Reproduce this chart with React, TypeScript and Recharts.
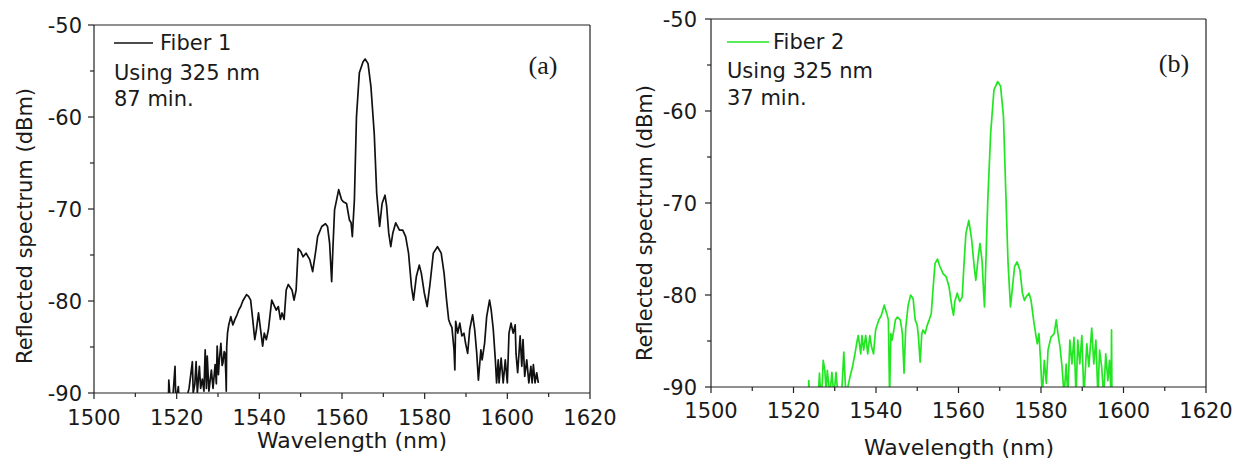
import React from 'react';
import { LineChart, Line, XAxis, YAxis, ReferenceLine } from 'recharts';

// Fiber 1 (panel a)
const fiber1Wavelength = [
  1518.0, 1518.1, 1518.4, 1519.0, 1519.6, 1519.8, 1520.4, 1520.6, 1521.2, 1522.6,
  1523.0, 1523.8, 1524.0, 1524.4, 1524.7, 1525.0, 1525.5, 1525.8, 1526.2, 1526.6,
  1526.9, 1527.2, 1527.4, 1527.8, 1528.4, 1528.8, 1529.3, 1529.6, 1529.8, 1530.1,
  1530.3, 1530.7, 1531.0, 1531.2, 1531.5, 1531.7, 1531.9, 1532.0, 1532.1, 1532.3,
  1532.6, 1533.1, 1533.6, 1534.1, 1534.6, 1535.0, 1535.5, 1536.0, 1536.9, 1537.4,
  1537.9, 1538.4, 1538.9, 1539.3, 1539.8, 1540.3, 1540.8, 1541.2, 1541.7, 1542.2,
  1543.0, 1543.6, 1544.1, 1544.6, 1545.1, 1545.5, 1546.0, 1546.5, 1547.0, 1547.9,
  1548.4, 1548.9, 1549.4, 1550.0, 1550.6, 1551.3, 1552.2, 1552.9, 1553.7, 1554.1,
  1555.1, 1556.0, 1556.5, 1557.0, 1557.5, 1557.8, 1558.2, 1559.2, 1559.9, 1560.3,
  1561.1, 1561.8, 1562.2, 1562.5, 1563.0, 1563.5, 1564.2, 1565.1, 1565.6, 1566.3,
  1567.0, 1567.8, 1568.4, 1569.1, 1569.7, 1570.4, 1570.8, 1571.3, 1571.8, 1572.3,
  1573.0, 1573.9, 1574.7, 1575.4, 1576.1, 1576.8, 1577.3, 1578.0, 1578.7, 1579.2,
  1579.9, 1580.6, 1581.3, 1582.1, 1583.1, 1584.0, 1584.7, 1585.3, 1585.8, 1586.1,
  1586.6, 1587.1, 1587.3, 1587.5, 1588.0, 1588.5, 1589.0, 1589.5, 1589.9, 1590.4,
  1590.9, 1591.6, 1592.1, 1592.6, 1593.0, 1593.6, 1593.9, 1594.5, 1595.0, 1595.7,
  1596.1, 1596.6, 1597.1, 1597.4, 1597.8, 1598.0, 1598.5, 1599.0, 1599.5, 1600.0,
  1600.4, 1600.9, 1601.4, 1601.9, 1602.1, 1602.5, 1603.1, 1603.5, 1603.8, 1604.2,
  1604.7, 1605.2, 1605.7, 1606.0, 1606.3, 1606.7, 1607.1, 1607.5,
];
const fiber1Power = [
  -91, -88.6, -90.5, -91, -87.1, -91, -89.3, -91, -90.5, -90.2,
  -89.5, -86.6, -90, -89, -86.6, -90, -87.1, -89.5, -88.5, -89.8,
  -85.3, -89.5, -86.0, -89.8, -87.5, -89.5, -86.9, -89, -84.9, -88,
  -86.5, -84.6, -87, -86.7, -85.5, -85.7, -88, -89.8, -85, -83.5,
  -82.6, -81.7, -82.6, -82, -81.5, -81.0, -80.6, -80.0, -79.3, -79.5,
  -79.9, -82.0, -84.2, -83.1, -81.3, -83.1, -84.9, -83.5, -84.2, -83.1,
  -79.9, -80.5, -81.0, -80.6, -82.0, -81.3, -82.0, -78.8, -78.2, -78.8,
  -79.9, -78.8, -74.3, -74.6, -75.2, -74.8, -75.5, -76.8, -74.4, -73.0,
  -71.9, -71.6, -71.9, -73.7, -77.9, -74.3, -70.1, -67.9, -69.0, -69.2,
  -69.4, -71.2, -71.5, -73.0, -69.0, -60.0, -55.2, -54.0, -53.7, -54.2,
  -56.7, -61.8, -68.3, -71.9, -69.4, -68.5, -69.7, -72.6, -74.1, -72.6,
  -71.5, -72.3, -72.3, -73.0, -74.8, -78.4, -79.9, -77.3, -76.1, -77.0,
  -79.1, -80.6, -78.1, -74.8, -74.1, -74.8, -77.0, -79.9, -82.0, -82.4,
  -82.9, -85.3, -87.5, -82.2, -83.5, -82.4, -83.8, -83.5, -84.6, -85.7,
  -83.1, -81.5, -83.1, -85.7, -88.6, -85.3, -86.4, -84.6, -81.7, -79.9,
  -81.0, -83.1, -86.4, -88.9, -86.4, -88.9, -86.2, -88.9, -86.4, -88.9,
  -83.5, -82.4, -83.5, -82.6, -85.7, -87.8, -83.8, -87.1, -84.2, -88.2,
  -86.4, -88.9, -87.1, -88.9, -86.9, -88.9, -87.8, -88.9,
];

// Fiber 2 (panel b)
const fiber2Wavelength = [
  1523.6, 1523.7, 1523.9, 1526.0, 1526.3, 1526.6, 1527.0, 1527.2, 1527.6, 1527.9,
  1528.2, 1528.8, 1529.3, 1529.8, 1530.3, 1530.8, 1531.7, 1532.2, 1532.7, 1533.7,
  1534.3, 1534.9, 1535.3, 1535.7, 1536.3, 1536.6, 1537.0, 1537.5, 1538.0, 1538.5,
  1538.9, 1539.4, 1539.9, 1540.7, 1541.3, 1542.0, 1542.6, 1543.0, 1543.3, 1543.6,
  1543.9, 1544.4, 1544.7, 1545.2, 1545.9, 1546.4, 1546.8, 1547.2, 1547.8, 1548.4,
  1549.0, 1549.5, 1550.0, 1550.3, 1550.7, 1551.1, 1551.4, 1551.9, 1552.4, 1552.9,
  1553.4, 1553.8, 1554.3, 1554.9, 1555.5, 1556.3, 1557.0, 1557.7, 1558.4, 1558.8,
  1559.1, 1559.7, 1560.3, 1560.9, 1561.3, 1561.8, 1562.5, 1563.2, 1563.8, 1564.2,
  1564.7, 1565.2, 1565.7, 1566.1, 1566.3, 1566.6, 1567.1, 1567.8, 1568.6, 1569.5,
  1570.2, 1570.9, 1571.4, 1572.0, 1572.6, 1573.1, 1573.6, 1574.2, 1574.9, 1575.5,
  1576.0, 1576.4, 1577.1, 1577.6, 1578.2, 1578.7, 1579.1, 1579.5, 1579.9, 1580.3,
  1580.8, 1581.3, 1581.7, 1582.4, 1583.2, 1583.7, 1584.1, 1584.6, 1585.1, 1585.6,
  1586.1, 1586.5, 1587.0, 1587.5, 1588.0, 1588.5, 1588.9, 1589.4, 1589.9, 1590.4,
  1591.1, 1591.6, 1592.3, 1592.8, 1593.3, 1593.8, 1594.2, 1594.7, 1595.2, 1595.7,
  1596.2, 1596.6, 1597.0, 1597.1, 1597.2,
];
const fiber2Power = [
  -91, -89.3, -91, -91, -88.5, -91, -89.5, -87.1, -88.2, -90.5,
  -88.2, -91, -88.4, -91, -88.4, -91, -90.5, -86.2, -91, -88.9,
  -87.8, -86.4, -85.3, -84.4, -86.4, -84.4, -86.0, -84.4, -86.4, -84.4,
  -85.6, -86.4, -83.8, -82.7, -82.2, -81.1, -82.0, -82.7, -91, -84.2,
  -84.9, -83.6, -82.7, -82.4, -82.7, -84.2, -88.5, -83.6, -81.1, -80.0,
  -80.4, -82.7, -83.3, -84.6, -87.3, -84.2, -83.8, -84.2, -83.3, -82.7,
  -82.0, -79.5, -76.6, -76.1, -76.9, -77.7, -78.0, -79.1, -81.3, -82.2,
  -80.7, -79.8, -80.7, -80.2, -76.9, -73.3, -71.9, -74.0, -76.9, -78.4,
  -76.2, -74.4, -76.2, -79.8, -81.3, -76.9, -69.7, -62.4, -57.7, -56.8,
  -57.3, -60.6, -67.9, -76.4, -81.3, -79.1, -76.9, -76.4, -77.3, -79.8,
  -80.6, -80.2, -79.8, -80.6, -82.7, -84.2, -85.3, -84.2, -87.1, -91,
  -87.1, -89.6, -86.0, -84.6, -84.2, -82.7, -84.2, -85.6, -87.8, -91,
  -87.5, -91, -84.9, -87.5, -84.6, -91, -84.9, -87.5, -84.4, -91,
  -85.3, -87.8, -83.6, -87.5, -84.9, -91, -86.0, -87.8, -91, -86.4,
  -89.3, -87.1, -91, -83.8, -91,
];

const xTicks = [1500, 1510, 1520, 1530, 1540, 1550, 1560, 1570, 1580, 1590, 1600, 1610, 1620];
const yTicks = [-90, -85, -80, -75, -70, -65, -60, -55, -50];

const FONT = '"DejaVu Sans", sans-serif';
const INK = '#1a1a1a';
const AXIS = '#222';

const toRows = (w: number[], p: number[]) => w.map((x, i) => ({ w: x, p: p[i] }));

const makeXTick = (gap: number) => (props: any) => {
  const { x, y, payload } = props;
  const major = payload.value % 20 === 0;
  return (
    <g>
      <line x1={x} y1={y} x2={x} y2={y + (major ? 6 : 4)} stroke={AXIS} strokeWidth={1.2} />
      {major && (
        <text x={x} y={y + gap} textAnchor="middle" fontFamily={FONT} fontSize={21} fill={INK}>
          {payload.value}
        </text>
      )}
    </g>
  );
};

const makeYTick = (gap: number) => (props: any) => {
  const { x, y, payload } = props;
  const major = payload.value % 10 === 0;
  return (
    <g>
      <line x1={x} y1={y} x2={x - (major ? 6 : 4)} y2={y} stroke={AXIS} strokeWidth={1.2} />
      {major && (
        <text x={x - gap} y={y + 7.5} textAnchor="end" fontFamily={FONT} fontSize={21} fill={INK}>
          {payload.value}
        </text>
      )}
    </g>
  );
};

interface PanelProps {
  data: { w: number; p: number }[];
  color: string;
  left: number;
  top: number;
  right: number;
  yAxisWidth: number;
  xAxisHeight: number;
  xGap: number;
  yGap: number;
}

const Panel = ({ data, color, left, top, right, yAxisWidth, xAxisHeight, xGap, yGap }: PanelProps) => (
  <div style={{ position: 'absolute', left, top: 0 }}>
    <LineChart width={620} height={461} data={data} margin={{ top, right, left: 0, bottom: 0 }}>
      <XAxis
        dataKey="w"
        type="number"
        domain={[1500, 1620]}
        ticks={xTicks}
        interval={0}
        allowDataOverflow
        height={xAxisHeight}
        tickLine={false}
        tickSize={0}
        tickMargin={0}
        axisLine={{ stroke: AXIS, strokeWidth: 1.2 }}
        tick={makeXTick(xGap)}
      />
      <YAxis
        type="number"
        domain={[-90, -50]}
        ticks={yTicks}
        interval={0}
        allowDataOverflow
        width={yAxisWidth}
        tickLine={false}
        tickSize={0}
        tickMargin={0}
        axisLine={{ stroke: AXIS, strokeWidth: 1.2 }}
        tick={makeYTick(yGap)}
      />
      <ReferenceLine y={-50} stroke={AXIS} strokeWidth={1.2} />
      <ReferenceLine x={1620} stroke={AXIS} strokeWidth={1.2} />
      <Line
        type="linear"
        dataKey="p"
        stroke={color}
        strokeWidth={1.7}
        strokeLinejoin="round"
        dot={false}
        activeDot={false}
        isAnimationActive={false}
      />
    </LineChart>
  </div>
);

const txt = { fontFamily: FONT, fontSize: 21, fill: INK } as const;

export default function App() {
  return (
    <div style={{ position: 'absolute', left: 0, top: 0, width: 1240, height: 461, background: '#fff' }}>
      <Panel
        data={toRows(fiber1Wavelength, fiber1Power)}
        color="#111"
        left={0}
        top={25}
        right={30}
        yAxisWidth={94}
        xAxisHeight={68}
        xGap={32}
        yGap={12}
      />
      <Panel
        data={toRows(fiber2Wavelength, fiber2Power)}
        color="#22e622"
        left={620}
        top={19}
        right={34}
        yAxisWidth={91}
        xAxisHeight={74}
        xGap={31}
        yGap={14}
      />
      <svg
        width={1240}
        height={461}
        style={{ position: 'absolute', left: 0, top: 0, pointerEvents: 'none' }}
      >
        {/* panel (a) */}
        <line x1={114} y1={43} x2={153} y2={43} stroke="#111" strokeWidth={1.4} />
        <text x={160} y={50} {...txt}>Fiber 1</text>
        <text x={114} y={80} {...txt}>Using 325 nm</text>
        <text x={114} y={106} {...txt}>87 min.</text>
        <text x={543} y={74} textAnchor="middle" fontFamily='"Liberation Serif", serif' fontSize={26} fill={INK}>(a)</text>
        <text x={32} y={226} transform="rotate(-90 32 226)" textAnchor="middle" {...txt}>
          Reflected spectrum (dBm)
        </text>
        <text x={352} y={448} textAnchor="middle" fontFamily={FONT} fontSize={22} fill={INK}>Wavelength (nm)</text>

        {/* panel (b) */}
        <line x1={727} y1={42} x2={769} y2={42} stroke="#22e622" strokeWidth={1.4} />
        <text x={773} y={49} {...txt}>Fiber 2</text>
        <text x={727} y={78} {...txt}>Using 325 nm</text>
        <text x={727} y={105} {...txt}>37 min.</text>
        <text x={1174} y={72} textAnchor="middle" fontFamily='"Liberation Serif", serif' fontSize={26} fill={INK}>(b)</text>
        <text x={652} y={223} transform="rotate(-90 652 223)" textAnchor="middle" {...txt}>
          Reflected spectrum (dBm)
        </text>
        <text x={959} y={455} textAnchor="middle" fontFamily={FONT} fontSize={22} fill={INK}>Wavelength (nm)</text>
      </svg>
    </div>
  );
}
